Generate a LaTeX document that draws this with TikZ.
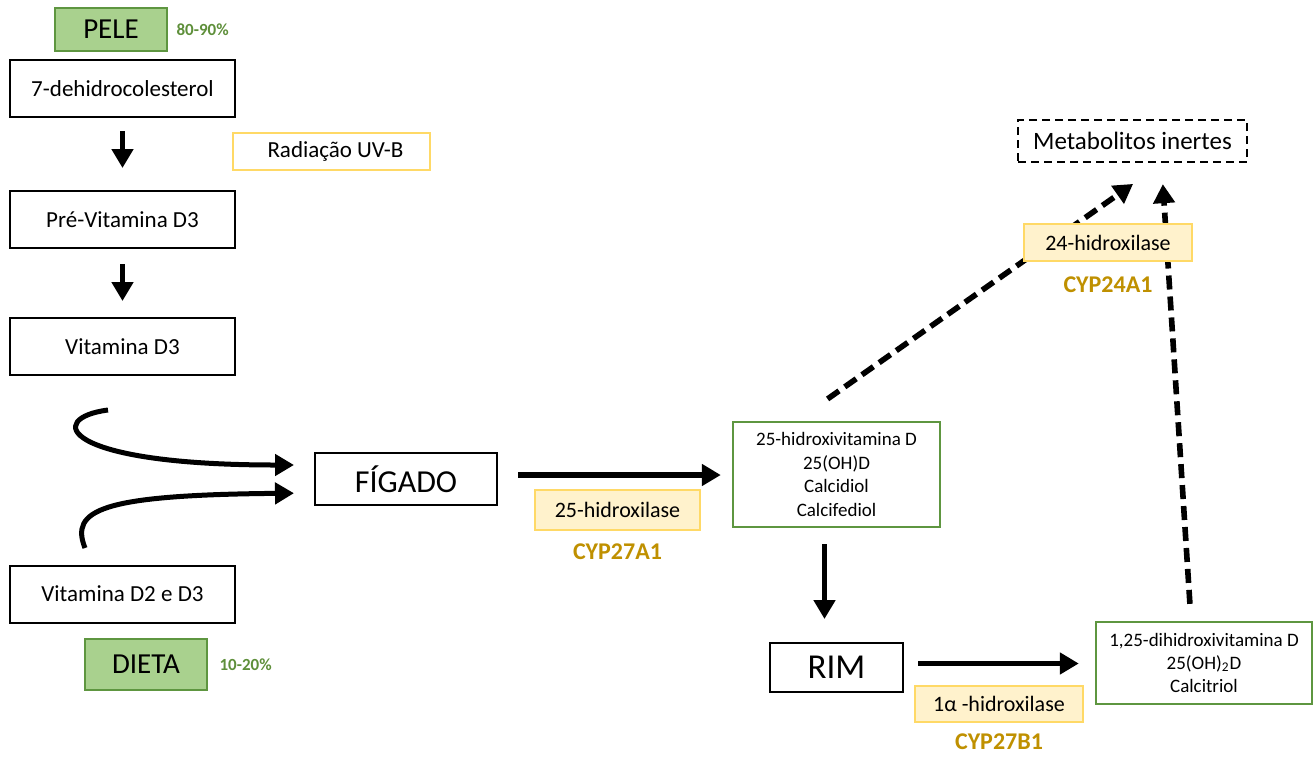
\documentclass[tikz,border=0pt]{standalone}
\usepackage{fontspec}
\setmainfont{Carlito}
\usepackage{tikz}
\usetikzlibrary{arrows.meta, positioning}
\usepackage{xcolor}

\definecolor{leaffill}{HTML}{A9D18E}
\definecolor{leafline}{HTML}{5E9640}
\definecolor{leaftext}{HTML}{5E8F3A}
\definecolor{sunline}{HTML}{FFD966}
\definecolor{sunfill}{HTML}{FFF2CC}
\definecolor{genegold}{HTML}{BF9000}

\begin{document}
\begin{tikzpicture}[
        x=0.5pt, y=-0.5pt,
        % Styles
        stagebox/.style={
            rectangle,
            draw=black,
            line width=1pt,
            fill=white,
            minimum width=112.5pt,
            minimum height=28.5pt,
            font=\fontsize{11.5}{14}\selectfont
          },
        organbox/.style={
            rectangle,
            draw=black,
            line width=1pt,
            fill=white,
            font=\fontsize{16}{19}\selectfont
          },
        sourcebox/.style={
            rectangle,
            draw=leafline,
            line width=1.2pt,
            fill=leaffill,
            font=\fontsize{14.5}{17}\selectfont
          },
        enzymebox/.style={
            rectangle,
            draw=sunline,
            line width=1pt,
            fill=sunfill,
            font=\fontsize{11}{13}\selectfont
          },
        formbox/.style={
            rectangle,
            draw=leafline,
            line width=1.2pt,
            fill=white,
            align=center,
            inner sep=2pt,
            font=\fontsize{9.5}{11.7}\selectfont
          },
        metabox/.style={
            rectangle,
            draw=black,
            line width=1.2pt,
            dash pattern=on 4pt off 2.5pt,
            minimum width=114.5pt,
            minimum height=21pt,
            font=\fontsize{12.5}{15}\selectfont
          },
        genelabel/.style={
            inner sep=0pt,
            text=genegold,
            font=\fontsize{12}{14}\selectfont\bfseries
          },
        sharelabel/.style={
            inner sep=0pt,
            text=leaftext,
            font=\fontsize{8.5}{10}\selectfont\bfseries
          },
        arrow/.style={
            -{Triangle[length=9.5pt, width=10.5pt]},
            line width=2.8pt
          },
        dasharrow/.style={
            arrow,
            dash pattern=on 7pt off 3.5pt
          }
      ]
      \useasboundingbox (0,0) rectangle (1315,756);

      % Skin pathway (left column)
      \node[stagebox] (dehidro) at (122.5,88.5) {7-dehidrocolesterol};
      \node[sourcebox, minimum width=56pt, minimum height=21.5pt, above=3.5pt of dehidro, xshift=-5.75pt] (pele) {PELE};
      \node[sharelabel, right=4pt of pele] (pelepct) {80-90\%};
      \node[rectangle, draw=sunline, line width=1pt, minimum width=98.5pt, minimum height=18.5pt,
            font=\fontsize{11.5}{14}\selectfont] (uvb) at (331.5,151.5) {\hspace{4pt}Radiação UV-B};
      \node[stagebox] (previt) at (122.5,219.5) {Pré-Vitamina D3};
      \node[stagebox] (vitd3) at (122.5,346.5) {Vitamina D3};

      % Diet
      \node[stagebox] (vitd2d3) at (122.5,594) {Vitamina D2 e D3};
      \node[sourcebox, minimum width=61pt, minimum height=25.5pt, below=7pt of vitd2d3, xshift=11.75pt] (dieta) {DIETA};
      \node[sharelabel, right=5.5pt of dieta] (dietapct) {10-20\%};

      % Liver
      \node[organbox, minimum width=91pt, minimum height=26pt] (figado) at (406,479) {FÍGADO};
      \node[enzymebox, minimum width=82.5pt, minimum height=20pt] (h25) at (617.5,510) {25-hidroxilase};
      \node[genelabel, below=6pt of h25] (cyp27a1) {CYP27A1};
      \node[formbox, minimum width=103.5pt, minimum height=52.5pt] (calcidiol) at (836.5,474.5)
        {25-hidroxivitamina D\\25(OH)D\\Calcidiol\\Calcifediol};

      % Kidney
      \node[organbox, minimum width=66.5pt, minimum height=24.5pt, font=\fontsize{17.5}{20}\selectfont] (rim) at (836.5,667.5) {RIM};
      \node[enzymebox, minimum width=84pt, minimum height=18pt] (h1a) at (999,704) {1α -hidroxilase};
      \node[genelabel, below=5pt of h1a] (cyp27b1) {CYP27B1};
      \node[formbox, minimum width=108pt, minimum height=41pt] (calcitriol) at (1204,663)
        {1,25-dihidroxivitamina D\\25(OH)\textsubscript{2}D\\Calcitriol};

      % Inactivation
      \node[metabox] (metab) at (1132.5,141) {Metabolitos inertes};

      % Arrows
      \coordinate (d3out) at (108,410);
      \coordinate (d2out) at (85,548);
      \draw[arrow, shorten <=6.5pt, shorten >=11pt] (dehidro) -- (previt);
      \draw[arrow, shorten <=7.5pt, shorten >=8pt] (previt) -- (vitd3);
      \draw[arrow, line width=2.5pt, shorten >=10pt] (d3out) .. controls (45,418) and (60,465) .. ([yshift=7pt]figado.west);
      \draw[arrow, line width=2.5pt, shorten >=10pt] (d2out) .. controls (70,510) and (100,495) .. ([yshift=-7pt]figado.west);
      \draw[arrow, shorten <=10pt, shorten >=5.5pt] ([yshift=2pt]figado.east) -- ([yshift=2pt]figado.east -| calcidiol.west);
      \draw[arrow, shorten <=8pt, shorten >=11.5pt] ([xshift=-6pt]calcidiol.south) -- ([xshift=-6pt]rim.north);
      \draw[arrow, shorten <=7pt, shorten >=8pt] ([yshift=2pt]rim.east) -- ([yshift=2pt]rim.east -| calcitriol.west);

      % Dashed arrows (to inert metabolites)
      \draw[dasharrow, shorten <=19pt, shorten >=18pt] ([xshift=-20pt]calcidiol.north) -- ([xshift=15pt]metab.south);
      \draw[dasharrow, shorten <=8.5pt, shorten >=10.5pt] ([xshift=-6.5pt]calcitriol.north) -- ([xshift=14.5pt]metab.south);

      \node[enzymebox, minimum width=84pt, minimum height=18.5pt] (h24) at (1108,242.5) {24-hidroxilase};
      \node[genelabel, below=7pt of h24] (cyp24a1) {CYP24A1};

    \end{tikzpicture}
\end{document}
